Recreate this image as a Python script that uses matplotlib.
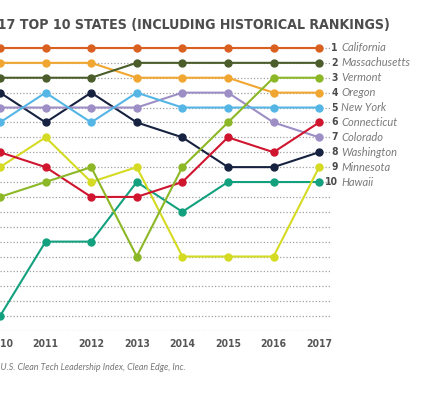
import matplotlib
matplotlib.use('Agg')
import matplotlib.pyplot as plt

years = [2010, 2011, 2012, 2013, 2014, 2015, 2016, 2017]

states = ['California', 'Massachusetts', 'Vermont', 'Oregon', 'New York',
          'Connecticut', 'Colorado', 'Washington', 'Minnesota', 'Hawaii']

california = [1, 1, 1, 1, 1, 1, 1, 1]
massachusetts = [3, 3, 3, 2, 2, 2, 2, 2]
vermont = [11, 10, 9, 15, 9, 6, 3, 3]
oregon = [2, 2, 2, 3, 3, 3, 4, 4]
new_york = [6, 4, 6, 4, 5, 5, 5, 5]
connecticut = [8, 9, 11, 11, 10, 7, 8, 6]
colorado = [5, 5, 5, 5, 4, 4, 6, 7]
washington = [4, 6, 4, 6, 7, 9, 9, 8]
minnesota = [9, 7, 10, 9, 15, 15, 15, 9]
hawaii = [19, 14, 14, 10, 12, 10, 10, 10]

ranks = [california, massachusetts, vermont, oregon, new_york,
         connecticut, colorado, washington, minnesota, hawaii]

colors = ['#D9601F', '#4B5D2B', '#8CB726', '#F0A630', '#55B6E6',
          '#D0152E', '#9D8FC6', '#16223F', '#D5DB22', '#13A07E']

title = '2017 TOP 10 STATES (INCLUDING HISTORICAL RANKINGS)'
source = 'Source: U.S. Clean Tech Leadership Index, Clean Edge, Inc.'

W, H = 430, 400
fig = plt.figure(figsize=(W / 100, H / 100), dpi=100)
ax = fig.add_axes([0, (H - 331) / H, 332 / W, 290.5 / H])

cond = dict(family='DejaVu Sans', fontstretch='condensed')

# dotted rank grid
for r in range(1, 21):
    ax.axhline(r, color='#a0a0a0', lw=0.9, ls=(0, (1, 1.6)), zorder=0)

for i in range(len(states) - 1, -1, -1):
    ax.plot(years, ranks[i], color=colors[i], lw=1.5, marker='o', ms=5,
            zorder=2 + (len(states) - i) * 0.1)

# right-hand labels
for i, name in enumerate(states):
    r = ranks[i][-1]
    ax.text(2017.41, r, str(r), ha='right', va='center', fontsize=7.5,
            fontweight='bold', color='#4a4a4a', clip_on=False, **cond)
    ax.text(2017.48, r, name, ha='left', va='center', fontsize=8,
            style='italic', color='#7a7a7a', family='Lato', clip_on=False)

ax.set_xlim(2010 + 3 / 46, 2017 + 13 / 46)
ax.set_ylim(20, 0.5)
ax.set_yticks([])
ax.set_xticks(years)
ax.set_xticklabels([str(y) for y in years], fontsize=7.5, fontweight='bold',
                   color='#555555', **cond)
ax.tick_params(axis='x', length=0, pad=6)
for s in ax.spines.values():
    s.set_visible(False)

fig.text(390 / W, 1 - 25 / H, title, ha='right', va='center', fontsize=10.2,
         fontweight='bold', color='#4d4d4d', **cond)
fig.text(186 / W, 1 - 367 / H, source, ha='right', va='center', fontsize=6.4,
         style='italic', color='#777777', family='Lato')

fig.savefig('out.png', dpi=100)
